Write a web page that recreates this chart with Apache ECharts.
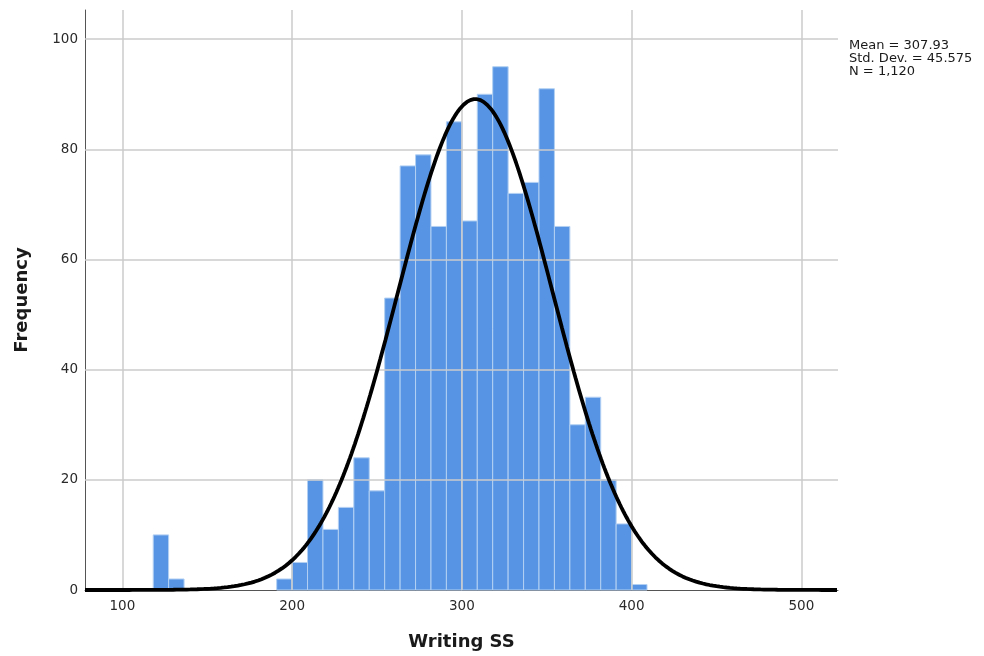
<!DOCTYPE html>
<html>
<head>
<meta charset="utf-8">
<script src="https://cdn.jsdelivr.net/npm/echarts@6/dist/echarts.min.js"></script>
<style>html,body{margin:0;padding:0;background:#fff;}#chart{width:984px;height:656px;}</style>
</head>
<body>
<div id="chart"></div>
<script>
// Histogram bins: first bin lower edge and bin width (SPSS binning, 11 bins per 100)
const binStart = 118.1818;
const binWidth = 100 / 11;
// Frequency per bin
const counts = [10, 2, 0, 0, 0, 0, 0, 0, 2, 5, 20, 11, 15, 24, 18, 53, 77, 79, 66, 85, 67, 90, 95, 72, 74, 91, 66, 30, 35, 20, 12, 1];
// Summary statistics
const statMean = 307.93;
const statSD = 45.575;
const statN = 1120;
const statLines = ['Mean = 307.93', 'Std. Dev. = 45.575', 'N = 1,120'];
const xTicks = [100, 200, 300, 400, 500];
const yTicks = [0, 20, 40, 60, 80, 100];
const xTitle = 'Writing SS';
const yTitle = 'Frequency';

const xMin = 78.0, xMax = 521.6, yMax = 105.3;

const barData = [];
counts.forEach((c, i) => { if (c > 0) barData.push([binStart + i * binWidth, binStart + (i + 1) * binWidth, c]); });
const curve = [];
for (let x = xMin; x <= xMax; x += 1) {
  const z = (x - statMean) / statSD;
  curve.push([x, statN * binWidth * Math.exp(-0.5 * z * z) / (statSD * Math.sqrt(2 * Math.PI))]);
}

const chart = echarts.init(document.getElementById('chart'), null, {renderer: 'canvas'});
const font = 'DejaVu Sans';
chart.setOption({
  animation: false,
  grid: {left: 85, right: 146, top: 10, bottom: 66, containLabel: false},
  xAxis: {
    type: 'value', min: xMin, max: xMax,
    name: xTitle, nameLocation: 'middle', nameGap: 43,
    nameTextStyle: {fontFamily: font, fontWeight: 'bold', fontSize: 18, color: '#1a1a1a'},
    axisLine: {show: true, onZero: false, lineStyle: {color: '#555', width: 1}},
    axisTick: {show: false},
    axisLabel: {customValues: xTicks, fontFamily: font, fontSize: 13.5, color: '#2a2a2a', margin: 9},
    splitLine: {show: false}
  },
  yAxis: {
    type: 'value', min: 0, max: yMax,
    name: yTitle, nameLocation: 'middle', nameGap: 54,
    nameTextStyle: {fontFamily: font, fontWeight: 'bold', fontSize: 18, color: '#1a1a1a'},
    axisLine: {show: true, lineStyle: {color: '#555', width: 1}},
    axisTick: {show: false},
    axisLabel: {customValues: yTicks, fontFamily: font, fontSize: 13.5, color: '#2a2a2a', margin: 7},
    splitLine: {show: false}
  },
  series: [
    {
      type: 'line', data: [], silent: true,
      markLine: {
        symbol: 'none', silent: true, label: {show: false},
        lineStyle: {color: '#cbcbcb', width: 1.5, type: 'solid'},
        data: xTicks.map(v => ({xAxis: v})).concat(yTicks.filter(v => v > 0).map(v => ({yAxis: v})))
      }
    },
    {
      type: 'custom',
      data: barData,
      renderItem: function (params, api) {
        const p0 = api.coord([api.value(0), api.value(2)]);
        const p1 = api.coord([api.value(1), 0]);
        return {
          type: 'rect',
          shape: {x: p0[0], y: p0[1], width: p1[0] - p0[0], height: p1[1] - p0[1]},
          style: {fill: '#5795e4', stroke: '#b3d0f3', lineWidth: 1}
        };
      },
      encode: {x: [0, 1], y: 2}
    },
    {
      type: 'line', data: curve, showSymbol: false, smooth: false,
      lineStyle: {color: '#000', width: 3.8}, z: 5
    }
  ],
  graphic: [{
    type: 'text', left: 849, top: 39,
    style: {text: statLines.join('\n'), fontFamily: font, fontSize: 13, lineHeight: 13, fill: '#1a1a1a'}
  }]
});
</script>
</body>
</html>
